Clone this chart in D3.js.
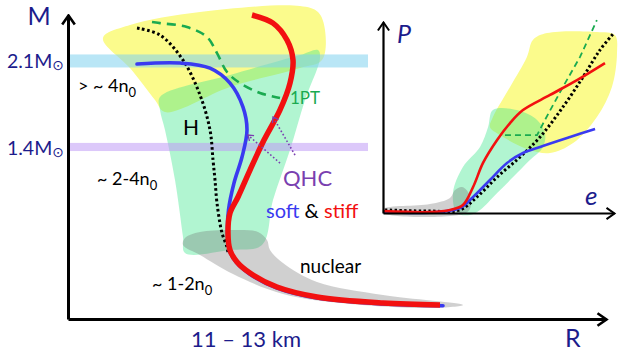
<!DOCTYPE html>
<html>
<head>
<meta charset="utf-8">
<script src="https://cdn.jsdelivr.net/npm/d3@7"></script>
<style>
  body { margin: 0; background: #fff; }
  svg { display: block; }
  text { font-family: Lato, "Open Sans", sans-serif; }
</style>
</head>
<body>
<svg id="chart" width="618" height="360"></svg>
<script>
// ---- main panel: mass (M_sun) vs radius (km), schematic ----
const bandMass = [2.1, 1.4];
const bandSpread = [0.053, 0.033];
const bandRMax = 14.0;

const stiffMR = [[11.68,2.474],[12.10,2.408],[12.38,2.270],[12.50,2.107],[12.44,1.920],[12.24,1.701],
  [11.92,1.456],[11.64,1.212],[11.40,0.993],[11.24,0.862],[11.20,0.700],[11.24,0.561],[11.38,0.464],
  [11.64,0.374],[12.18,0.260],[12.98,0.179],[14.30,0.130],[15.44,0.114]];
const softMR = [[9.38,2.075],[10.24,2.083],[10.84,2.042],[11.24,1.920],[11.50,1.725],[11.58,1.538],
  [11.48,1.318],[11.32,1.107],[11.21,0.887],[11.19,0.697],[11.23,0.556],[11.37,0.458],[11.63,0.367],
  [12.18,0.252],[12.98,0.171],[14.30,0.122],[15.50,0.108]];
const hadronMR = [[9.38,2.368],[9.84,2.311],[10.30,2.107],[10.64,1.823],[10.84,1.538],[10.90,1.294],
  [10.94,1.131],[10.98,0.944],[11.08,0.700],[11.18,0.586],[11.20,0.537]];
const onePtMR = [[9.68,2.417],[9.84,2.408],[10.38,2.376],[10.78,2.295],[10.98,2.164],[11.18,2.010],
  [11.44,1.920],[11.84,1.839],[12.24,1.798]];

const highDensityMR = [[8.70,2.286],[9.24,2.392],[10.64,2.498],[12.64,2.547],[13.00,2.498],[13.14,2.352],
  [13.08,2.107],[12.64,2.042],[11.24,1.888],[9.94,1.684],[9.74,1.782],[9.24,2.042]];
const midDensityMR = [[9.84,1.806],[11.24,1.985],[12.64,2.148],[13.00,2.189],[13.04,2.124],[12.74,1.782],
  [12.44,1.375],[12.10,0.968],[11.88,0.602],[11.24,0.561],[10.34,0.537],[10.30,0.667],[10.14,1.131],
  [9.94,1.538],[9.84,1.701]];
const nuclearMR = [[10.34,0.659],[10.64,0.708],[11.44,0.724],[11.80,0.708],[11.98,0.643],[12.04,0.561],
  [12.30,0.456],[12.98,0.301],[14.30,0.195],[15.90,0.114],[15.30,0.090],[13.64,0.122],[12.30,0.203],
  [11.30,0.366],[10.64,0.521],[10.30,0.602]];

const qhcArrows = [[[12.24,1.269],[11.60,1.497]], [[12.54,1.334],[12.10,1.644]]];

// ---- inset: pressure vs energy density (relative units) ----
const stiffEP = [[0,0.010],[0.203,0.005],[0.290,0.016],[0.346,0.042],[0.390,0.136],[0.433,0.262],
  [0.494,0.382],[0.550,0.471],[0.606,0.539],[0.723,0.618],[0.840,0.696],[0.961,0.785]];
const softEP = [[0,0.005],[0.203,0.002],[0.333,0.026],[0.390,0.084],[0.463,0.173],[0.537,0.262],
  [0.606,0.314],[0.680,0.346],[0.810,0.398],[0.918,0.440]];
const hadronEP = [[0.009,0.016],[0.203,0.010],[0.333,0.016],[0.407,0.084],[0.494,0.188],[0.593,0.293],
  [0.680,0.398],[0.779,0.555],[0.866,0.712],[0.939,0.853],[0.996,0.937]];
const onePtEP = [[0.528,0.408],[0.667,0.408],[0.701,0.487],[0.779,0.660],[0.853,0.817],[0.926,1.010]];

const highDensityEP = [[0.649,0.906],[0.710,0.942],[0.926,0.948],[1.004,0.932],[1.013,0.838],[0.991,0.660],
  [0.926,0.503],[0.823,0.366],[0.723,0.314],[0.636,0.330],[0.506,0.408],[0.463,0.450],[0.476,0.503],
  [0.550,0.660],[0.623,0.817]];
const midDensityEP = [[0.476,0.539],[0.580,0.539],[0.667,0.487],[0.701,0.419],[0.693,0.346],[0.636,0.277],
  [0.563,0.188],[0.494,0.105],[0.420,0.016],[0.377,-0.010],[0.320,0],[0.303,0.105],[0.346,0.241],
  [0.420,0.346],[0.455,0.450]];
const nuclearEP = [[0,0.021],[0.203,0.047],[0.290,0.079],[0.312,0.120],[0.342,0.136],[0.368,0.110],
  [0.381,0.042],[0.359,0],[0,0]];

const svg = d3.select("#chart");

const x = d3.scaleLinear().domain([8, 18.76]).range([68, 606]);
const y = d3.scaleLinear().domain([0, 2.474]).range([319, 15]);
const ex = d3.scaleLinear().domain([0, 1]).range([383, 614]);
const py = d3.scaleLinear().domain([0, 1]).range([213, 22]);

const NAVY = "#1c1c8c", RED = "#f21010", BLUE = "#3a3af0", GREEN = "#1aaa50", PURPLE = "#7a3fb0";

// arrow heads
const defs = svg.append("defs");
function arrowMarker(id, color, size, sw) {
  defs.append("marker")
    .attr("id", id)
    .attr("markerUnits", "userSpaceOnUse")
    .attr("viewBox", "-14 -10 16 20")
    .attr("markerWidth", 16).attr("markerHeight", 20)
    .attr("refX", 0).attr("refY", 0)
    .attr("orient", "auto")
    .append("path")
    .attr("d", `M${-size},${-size * 0.7}L0,0L${-size},${size * 0.7}`)
    .attr("fill", "none")
    .attr("stroke", color)
    .attr("stroke-width", sw);
}
arrowMarker("arrowBig", "#000", 9, 2.6);
arrowMarker("arrowSmall", "#000", 8, 2);
arrowMarker("arrowQhc", PURPLE, 5, 1.3);

function panel(sx, sy) {
  return {
    smooth: d3.line().x(d => sx(d[0])).y(d => sy(d[1])).curve(d3.curveCatmullRom.alpha(0.5)),
    blob: d3.line().x(d => sx(d[0])).y(d => sy(d[1])).curve(d3.curveCatmullRomClosed.alpha(0.5)),
    straight: d3.line().x(d => sx(d[0])).y(d => sy(d[1]))
  };
}
const mainG = panel(x, y);
const insetG = panel(ex, py);

function regions(g, gen, hi, mid, nuc) {
  g.append("path").attr("d", gen.blob(hi)).attr("fill", "#fbfb8c");
  g.append("path").attr("d", gen.blob(mid)).attr("fill", "#3ce68c").attr("fill-opacity", 0.4);
  g.append("path").attr("d", gen.blob(nuc)).attr("fill", "#6e6e6e").attr("fill-opacity", 0.32);
}

// ---------- main panel ----------
const main = svg.append("g");
regions(main, mainG, highDensityMR, midDensityMR, nuclearMR);

const bandColors = ["#80d2ee", "#bf9bf6"];
main.selectAll(".band")
  .data(bandMass)
  .enter().append("rect")
  .attr("x", x(8))
  .attr("width", x(bandRMax) - x(8))
  .attr("y", (d, i) => y(d + bandSpread[i]))
  .attr("height", (d, i) => y(d - bandSpread[i]) - y(d + bandSpread[i]))
  .attr("fill", (d, i) => bandColors[i])
  .attr("fill-opacity", 0.55);

main.append("path").attr("d", mainG.smooth(onePtMR))
  .attr("fill", "none").attr("stroke", GREEN).attr("stroke-width", 2.6).attr("stroke-dasharray", "9,6");
main.append("path").attr("d", mainG.smooth(hadronMR))
  .attr("fill", "none").attr("stroke", "#000").attr("stroke-width", 3).attr("stroke-dasharray", "2.6,2.6");
main.append("path").attr("d", mainG.smooth(softMR))
  .attr("fill", "none").attr("stroke", BLUE).attr("stroke-width", 3.6).attr("stroke-linecap", "round");
main.append("path").attr("d", mainG.smooth(stiffMR))
  .attr("fill", "none").attr("stroke", RED).attr("stroke-width", 5.5);

main.selectAll(".qhc")
  .data(qhcArrows)
  .enter().append("path")
  .attr("d", d => mainG.straight(d))
  .attr("fill", "none").attr("stroke", PURPLE).attr("stroke-width", 1.6)
  .attr("stroke-dasharray", "1.6,2.2")
  .attr("marker-end", "url(#arrowQhc)");

// axes
const yAxis = main.append("g").attr("transform", `translate(${x(8)},0)`)
  .call(d3.axisLeft(y).tickValues([]).tickSizeOuter(0));
const xAxis = main.append("g").attr("transform", `translate(0,${y(0)})`)
  .call(d3.axisBottom(x).tickValues([]).tickSizeOuter(0));
[yAxis, xAxis].forEach(a => a.select(".domain")
  .attr("stroke", "#000").attr("stroke-width", 3).attr("marker-end", "url(#arrowBig)"));

function label(g, px, pyy, parts, size, anchor) {
  const t = g.append("text").attr("x", px).attr("y", pyy)
    .attr("font-size", size).attr("text-anchor", anchor || "start");
  parts.forEach(p => {
    const s = t.append("tspan").text(p.t).attr("fill", p.c || "#000");
    if (p.sub) s.attr("font-size", size * 0.72).attr("dy", size * 0.25);
    if (p.sun) s.attr("font-size", size * 0.72).attr("dy", size * 0.12).attr("font-family", "DejaVu Sans");
  });
  return t;
}

label(main, x(7.42), y(2.392), [{t: "M", c: NAVY}], 25, "middle");
label(main, 64, y(bandMass[0]) + 7, [{t: "2.1M", c: NAVY}, {t: "⊙", c: NAVY, sun: true}], 19.5, "end");
label(main, 64, y(bandMass[1]) + 8, [{t: "1.4M", c: NAVY}, {t: "⊙", c: NAVY, sun: true}], 19.5, "end");
label(main, x(8.2), y(1.847), [{t: "> ~ 4n"}, {t: "0", sub: true}], 18);
label(main, x(10.30), y(1.497), [{t: "H"}], 21);
label(main, x(8.58), y(1.090), [{t: "~ 2-4n"}, {t: "0", sub: true}], 18);
label(main, x(9.68), y(0.236), [{t: "~ 1-2n"}, {t: "0", sub: true}], 18);
label(main, x(12.30), y(1.082), [{t: "QHC", c: PURPLE}], 22);
label(main, x(11.96), y(0.822), [{t: "soft", c: BLUE}, {t: " & "}, {t: "stiff", c: RED}], 20);
label(main, x(12.64), y(0.374), [{t: "nuclear"}], 19);
label(main, x(12.44), y(1.749), [{t: "1PT", c: GREEN}], 17);
label(main, x(11.56), y(-0.228), [{t: "11 – 13 km", c: NAVY}], 22, "middle");
label(main, x(17.94), y(-0.228), [{t: "R", c: NAVY}], 25);

// ---------- inset ----------
const inset = svg.append("g");
regions(inset, insetG, highDensityEP, midDensityEP, nuclearEP);

inset.append("path").attr("d", insetG.straight(onePtEP))
  .attr("fill", "none").attr("stroke", GREEN).attr("stroke-width", 1.8).attr("stroke-dasharray", "6,4");
inset.append("path").attr("d", insetG.smooth(hadronEP))
  .attr("fill", "none").attr("stroke", "#000").attr("stroke-width", 3).attr("stroke-dasharray", "2.4,2.4");
inset.append("path").attr("d", insetG.smooth(softEP))
  .attr("fill", "none").attr("stroke", BLUE).attr("stroke-width", 2.6);
inset.append("path").attr("d", insetG.smooth(stiffEP))
  .attr("fill", "none").attr("stroke", RED).attr("stroke-width", 2.6);

const pAxis = inset.append("g").attr("transform", `translate(${ex(0)},0)`)
  .call(d3.axisLeft(py).tickValues([]).tickSizeOuter(0));
const eAxis = inset.append("g").attr("transform", `translate(0,${py(0)})`)
  .call(d3.axisBottom(ex).tickValues([]).tickSizeOuter(0));
[pAxis, eAxis].forEach(a => a.select(".domain")
  .attr("stroke", "#000").attr("stroke-width", 2.2).attr("marker-end", "url(#arrowSmall)"));

label(inset, ex(0.061), py(0.890), [{t: "P", c: NAVY}], 25)
  .attr("font-family", "Liberation Serif, serif").attr("font-style", "italic");
label(inset, ex(0.874), py(0.042), [{t: "e", c: NAVY}], 26)
  .attr("font-family", "Liberation Serif, serif").attr("font-style", "italic");
</script>
</body>
</html>
